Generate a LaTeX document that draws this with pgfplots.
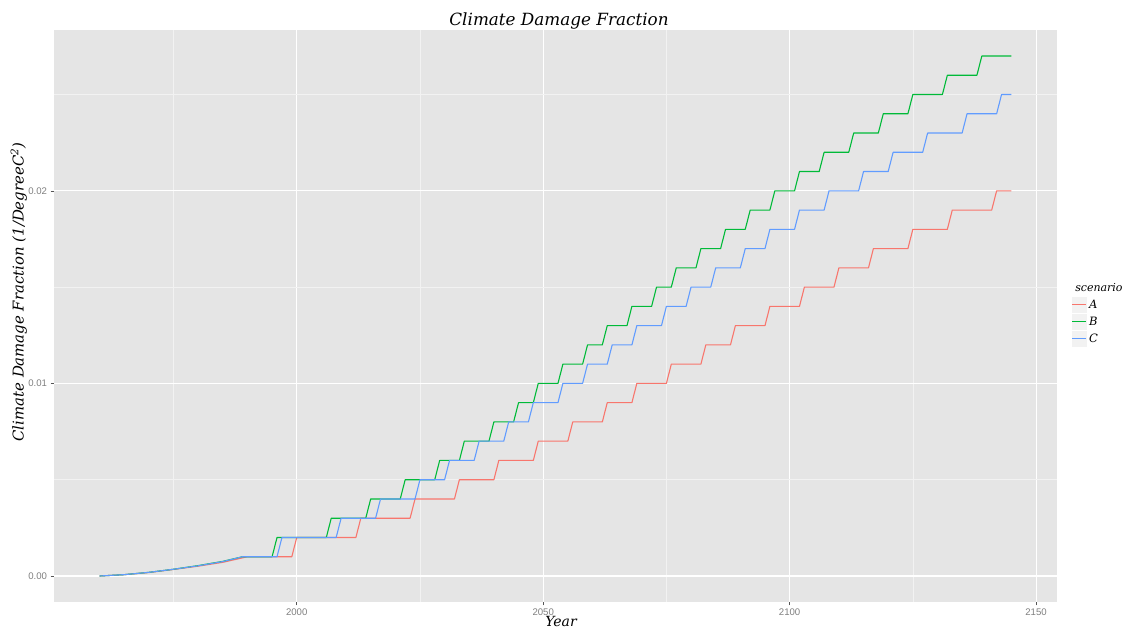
\documentclass[border=0pt]{standalone}
\usepackage{pgfplots}
\pgfplotsset{compat=1.18}
\usepackage{fontspec}
\setmainfont{DejaVu Serif}
\setsansfont{Liberation Sans}
\definecolor{panel}{HTML}{E5E5E5}
\definecolor{minorg}{HTML}{F2F2F2}
\definecolor{cA}{HTML}{F8766D}
\definecolor{cB}{HTML}{00BA38}
\definecolor{cC}{HTML}{619CFF}
\definecolor{tickg}{HTML}{7F7F7F}
\definecolor{tickm}{HTML}{555555}

\begin{document}
\begin{tikzpicture}[x=1pt,y=1pt]
\useasboundingbox (0,0) rectangle (1123,628);
\begin{axis}[
 at={(54pt,26pt)}, anchor=south west, scale only axis,
 width=1003pt, height=572pt,
 xmin=1950.75, xmax=2154.25, ymin=-0.00135, ymax=0.02835,
 axis background/.style={fill=panel},
 axis line style={draw=none},
 xtick={2000,2050,2100,2150}, xticklabels={2000,2050,2100,2150},
 ytick={0,0.01,0.02}, yticklabels={0.00,0.01,0.02},
 minor xtick={1975,2025,2075,2125}, minor ytick={0.005,0.015,0.025},
 grid=both,
 major grid style={white, line width=1.1pt},
 minor grid style={minorg, line width=0.55pt},
 tick align=outside, xtick pos=left, ytick pos=left,
 major tick length=3.5pt, minor tick length=0pt,
 tick style={tickm, line width=0.5pt},
 tick label style={font=\sffamily\fontsize{9.6}{10}\selectfont, text=tickg},
 scaled y ticks=false, scaled x ticks=false,
 every axis plot/.append style={line width=1.1pt, line join=round},
 legend style={at={(axis description cs:1.01466,0.5337)}, anchor=north west,
   draw=none, fill=none, inner sep=0pt, outer sep=0pt, row sep=1pt, column sep=2.5pt,
   font=\itshape\fontsize{11.5}{12}\selectfont, nodes={inner sep=0pt}},
 legend cell align=left,
 legend image code/.code={\fill[minorg, draw=none] (0pt,-8pt) rectangle (15pt,8pt); \draw[line width=0.8pt] (0.5pt,0pt) -- (14.5pt,0pt);},
]
\addplot[cA] coordinates {
(1960,0) (1965,0.00007) (1970,0.00018) (1975,0.00034) (1980,0.00051) (1985,0.00071) (1990,0.001)
(1999,0.001) (2000,0.002) (2012,0.002) (2013,0.003) (2023,0.003) (2024,0.004) (2032,0.004) (2033,0.005)
(2040,0.005) (2041,0.006) (2048,0.006) (2049,0.007) (2055,0.007) (2056,0.008) (2062,0.008) (2063,0.009)
(2068,0.009) (2069,0.010) (2075,0.010) (2076,0.011) (2082,0.011) (2083,0.012) (2088,0.012) (2089,0.013)
(2095,0.013) (2096,0.014) (2102,0.014) (2103,0.015) (2109,0.015) (2110,0.016) (2116,0.016) (2117,0.017)
(2124,0.017) (2125,0.018) (2132,0.018) (2133,0.019) (2141,0.019) (2142,0.020) (2145,0.020)
};
\addlegendentry{A}
\addplot[cB] coordinates {
(1960,0) (1965,0.00007) (1970,0.00019) (1975,0.00035) (1980,0.00054) (1985,0.00076) (1989,0.001)
(1995,0.001) (1996,0.002) (2006,0.002) (2007,0.003) (2014,0.003) (2015,0.004) (2021,0.004) (2022,0.005)
(2028,0.005) (2029,0.006) (2033,0.006) (2034,0.007) (2039,0.007) (2040,0.008) (2044,0.008) (2045,0.009)
(2048,0.009) (2049,0.010) (2053,0.010) (2054,0.011) (2058,0.011) (2059,0.012) (2062,0.012) (2063,0.013)
(2067,0.013) (2068,0.014) (2072,0.014) (2073,0.015) (2076,0.015) (2077,0.016) (2081,0.016) (2082,0.017)
(2086,0.017) (2087,0.018) (2091,0.018) (2092,0.019) (2096,0.019) (2097,0.020) (2101,0.020) (2102,0.021)
(2106,0.021) (2107,0.022) (2112,0.022) (2113,0.023) (2118,0.023) (2119,0.024) (2124,0.024) (2125,0.025)
(2131,0.025) (2132,0.026) (2138,0.026) (2139,0.027) (2145,0.027)
};
\addlegendentry{B}
\addplot[cC] coordinates {
(1960,0) (1965,0.00007) (1970,0.00019) (1975,0.00035) (1980,0.00053) (1985,0.00075) (1989,0.001)
(1996,0.001) (1997,0.002) (2008,0.002) (2009,0.003) (2016,0.003) (2017,0.004) (2024,0.004) (2025,0.005)
(2030,0.005) (2031,0.006) (2036,0.006) (2037,0.007) (2042,0.007) (2043,0.008) (2047,0.008) (2048,0.009)
(2053,0.009) (2054,0.010) (2058,0.010) (2059,0.011) (2063,0.011) (2064,0.012) (2068,0.012) (2069,0.013)
(2074,0.013) (2075,0.014) (2079,0.014) (2080,0.015) (2084,0.015) (2085,0.016) (2090,0.016) (2091,0.017)
(2095,0.017) (2096,0.018) (2101,0.018) (2102,0.019) (2107,0.019) (2108,0.020) (2114,0.020) (2115,0.021)
(2120,0.021) (2121,0.022) (2127,0.022) (2128,0.023) (2135,0.023) (2136,0.024) (2142,0.024) (2143,0.025)
(2145,0.025)
};
\addlegendentry{C}
\end{axis}
\node[anchor=base, font=\itshape\fontsize{16.8}{19}\selectfont] at (559,602) {Climate Damage Fraction};
\node[anchor=base, font=\itshape\fontsize{14}{16}\selectfont] at (561,1.5) {Year};
\node[anchor=base, rotate=90, font=\itshape\fontsize{14.9}{17}\selectfont] at (23.5,336) {Climate Damage Fraction (1/DegreeC\textsuperscript{2})};
\node[anchor=base west, font=\itshape\fontsize{11}{12}\selectfont] at (1071.7,336.3) {scenario};
\end{tikzpicture}
\end{document}
